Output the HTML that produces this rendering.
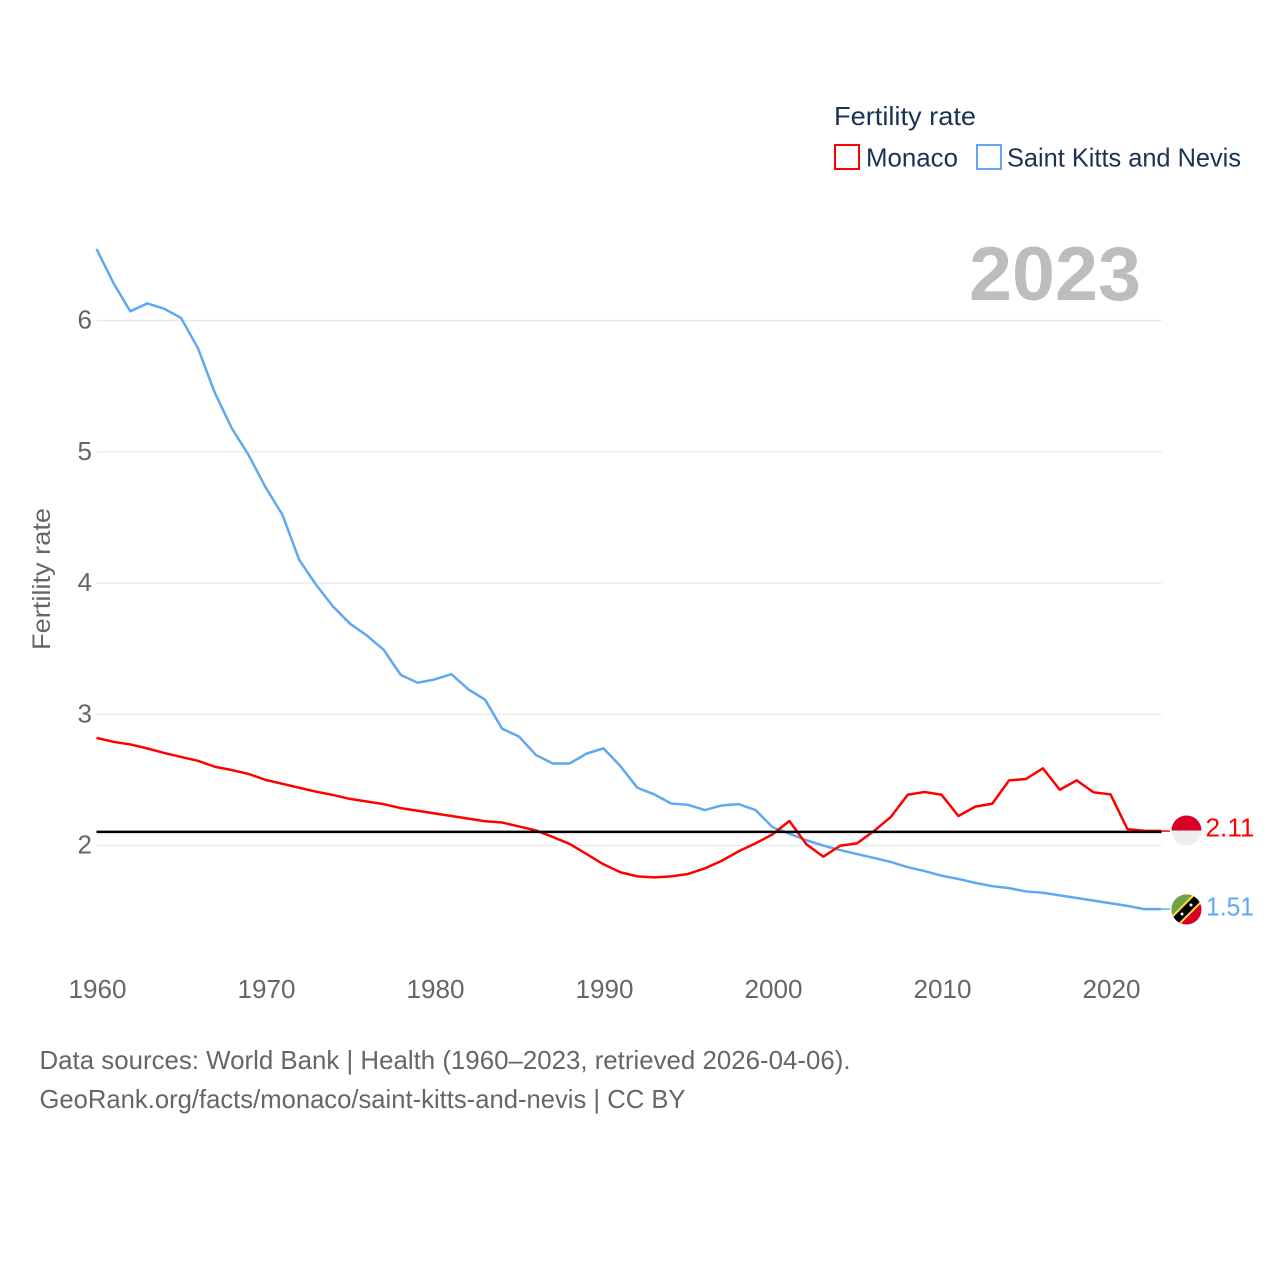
<!DOCTYPE html>
<html lang="en">
<head>
<meta charset="utf-8">
<title>Fertility rate: Monaco and Saint Kitts and Nevis</title>
<style>
  html, body { margin: 0; padding: 0; background: #fff; }
  svg { display: block; }
  text { font-family: "Liberation Sans", sans-serif; }
</style>
</head>
<body>
<svg id="chart" xmlns="http://www.w3.org/2000/svg" width="1280" height="1280" viewBox="0 0 1280 1280">
  <rect width="1280" height="1280" fill="#ffffff"/>
  <defs>
    <clipPath id="flag-clip-mc"><circle cx="1186.5" cy="830.5" r="15"/></clipPath>
    <clipPath id="flag-clip-kn"><circle cx="1186.5" cy="909.5" r="15"/></clipPath>
  </defs>
  <g id="grid"></g>
  <g id="y-ticks"></g>
  <g id="x-ticks"></g>
  <text transform="translate(50,579) rotate(-90)" text-anchor="middle" font-size="25" fill="#666666" textLength="142" lengthAdjust="spacingAndGlyphs">Fertility rate</text>
  <text x="969" y="300" font-size="76" font-weight="bold" fill="#bdbdbd" textLength="172" lengthAdjust="spacingAndGlyphs">2023</text>
  <g id="series"></g>

  <g>
    <text x="834" y="125" font-size="26" fill="#1a3353" textLength="142" lengthAdjust="spacingAndGlyphs">Fertility rate</text>
    <rect x="835" y="145" width="24" height="24" fill="#ffffff" stroke="#ff0000" stroke-width="2"/>
    <text x="866" y="166.5" font-size="26" fill="#1a3353" textLength="92" lengthAdjust="spacingAndGlyphs">Monaco</text>
    <rect x="977" y="145" width="24" height="24" fill="#ffffff" stroke="#5ea9f0" stroke-width="2"/>
    <text x="1007" y="166.5" font-size="26" fill="#1a3353" textLength="234" lengthAdjust="spacingAndGlyphs">Saint Kitts and Nevis</text>
  </g>

  <g clip-path="url(#flag-clip-mc)">
    <rect x="1171" y="815" width="31" height="16" fill="#d80027"/>
    <rect x="1171" y="830.5" width="31" height="16" fill="#eeeeee"/>
  </g>
  <g clip-path="url(#flag-clip-kn)">
    <rect x="1171" y="894" width="31" height="31" fill="#d80027"/>
    <polygon points="1171,894 1202,894 1171,925" fill="#6da544"/>
    <line x1="1173" y1="923" x2="1200" y2="896" stroke="#ffda44" stroke-width="12"/>
    <line x1="1173" y1="923" x2="1200" y2="896" stroke="#000000" stroke-width="8"/>
    <circle cx="1182" cy="914" r="1.5" fill="#ffffff"/>
    <circle cx="1191" cy="905" r="1.5" fill="#ffffff"/>
  </g>
  <text x="1205.5" y="836.5" font-size="26" fill="#ff0000" textLength="49" lengthAdjust="spacingAndGlyphs">2.11</text>
  <text x="1206" y="915.5" font-size="26" fill="#5ea9f0" textLength="48" lengthAdjust="spacingAndGlyphs">1.51</text>

  <text x="39.5" y="1069" font-size="26" fill="#666666" textLength="811" lengthAdjust="spacingAndGlyphs">Data sources: World Bank | Health (1960–2023, retrieved 2026-04-06).</text>
  <text x="39.5" y="1108" font-size="26" fill="#666666" textLength="646" lengthAdjust="spacingAndGlyphs">GeoRank.org/facts/monaco/saint-kitts-and-nevis | CC BY</text>
</svg>
<script>
const startYear = 1960;
const yTickValues = [2, 3, 4, 5, 6];
const xTickValues = [1960, 1970, 1980, 1990, 2000, 2010, 2020];
const referenceValue = 2.1;
const monacoValues = [
  2.82, 2.79, 2.77, 2.74, 2.705, 2.675, 2.645, 2.6, 2.575, 2.545,
  2.5, 2.47, 2.44, 2.41, 2.385, 2.355, 2.335, 2.315, 2.285, 2.265,
  2.245, 2.225, 2.205, 2.185, 2.175, 2.145, 2.115, 2.065, 2.012, 1.935,
  1.857, 1.796, 1.765, 1.757, 1.765, 1.783, 1.826, 1.884, 1.956, 2.017,
  2.085, 2.187, 2.01, 1.915, 1.998, 2.016, 2.11, 2.217, 2.387, 2.408,
  2.387, 2.225, 2.296, 2.318, 2.496, 2.507, 2.588, 2.425, 2.496, 2.405,
  2.39, 2.125, 2.112, 2.11
];
const saintKittsValues = [
  6.545, 6.286, 6.07, 6.13, 6.09, 6.02, 5.79, 5.45, 5.18, 4.975,
  4.73, 4.52, 4.175, 3.985, 3.82, 3.69, 3.6, 3.49, 3.3, 3.24,
  3.265, 3.305, 3.19, 3.11, 2.89, 2.83, 2.69, 2.625, 2.625, 2.7,
  2.74, 2.605, 2.44, 2.39, 2.32, 2.31, 2.27, 2.305, 2.315, 2.27,
  2.14, 2.09, 2.04, 2.0, 1.965, 1.935, 1.905, 1.875, 1.835, 1.805,
  1.77, 1.745, 1.715, 1.69, 1.675, 1.65, 1.64, 1.62, 1.6, 1.58,
  1.56, 1.54, 1.515, 1.515
];

const NS = 'http://www.w3.org/2000/svg';
const plotLeft = 96.5;
const plotRight = 1161.5;
function xScale(year) { return plotLeft + (year - 1960) * 16.9; }
function yScale(value) { return 845.5 - (value - 2) * 131.25; }
function make(tag, parent, props, text) {
  const el = document.createElementNS(NS, tag);
  for (const k in props) el.setAttribute(k, props[k]);
  if (text !== undefined) el.textContent = text;
  document.getElementById(parent).appendChild(el);
  return el;
}
yTickValues.forEach(function (v) {
  const line = make('line', 'grid', { x1: plotLeft, x2: plotRight, y1: yScale(v), y2: yScale(v), stroke: '#e8e8e8', 'stroke-width': 1.3 });
  
  
  const label = make('text', 'y-ticks', { x: 92, y: yScale(v) + 8, 'text-anchor': 'end', 'font-size': 26, fill: '#666666' }, String(v));
  
  
});
xTickValues.forEach(function (yr) {
  const label = make('text', 'x-ticks', { x: xScale(yr) + 1, y: 998, 'text-anchor': 'middle', 'font-size': 26, fill: '#666666', textLength: 58, lengthAdjust: 'spacingAndGlyphs' }, String(yr));
  
  
});
function pointsOf(values) {
  return values.map(function (v, i) { return xScale(startYear + i).toFixed(2) + ',' + yScale(v).toFixed(2); }).join(' ');
}
const lastIndex = monacoValues.length - 1;
const connMc = make('line', 'series', { x1: xScale(startYear + lastIndex), x2: 1170, y1: yScale(monacoValues[lastIndex]), y2: yScale(monacoValues[lastIndex]), stroke: '#ff0000', 'stroke-width': 1.5 });


const connKn = make('line', 'series', { x1: xScale(startYear + saintKittsValues.length - 1), x2: 1170, y1: yScale(saintKittsValues[saintKittsValues.length - 1]), y2: yScale(saintKittsValues[saintKittsValues.length - 1]), stroke: '#5ea9f0', 'stroke-width': 1.5 });


const kn = make('polyline', 'series', { points: pointsOf(saintKittsValues), fill: 'none', stroke: '#5ea9f0', 'stroke-width': 2.5, 'stroke-linejoin': 'round' });


const mc = make('polyline', 'series', { points: pointsOf(monacoValues), fill: 'none', stroke: '#ff0000', 'stroke-width': 2.5, 'stroke-linejoin': 'round' });


const ref = make('line', 'series', { x1: plotLeft, x2: plotRight, y1: yScale(referenceValue) - 0.5, y2: yScale(referenceValue) - 0.5, stroke: '#000000', 'stroke-width': 2.5 });


</script>
</body>
</html>
